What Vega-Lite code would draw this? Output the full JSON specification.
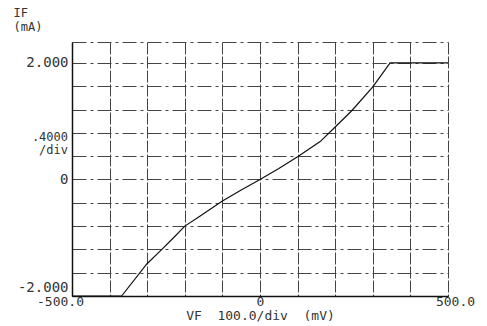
{
  "$schema": "https://vega.github.io/schema/vega-lite/v6.json",
  "width": 376,
  "height": 254,
  "autosize": {"type": "none"},
  "padding": {"left": 72, "top": 42, "right": 39, "bottom": 30},
  "background": "white",
  "config": {
    "view": {"stroke": null},
    "font": "DejaVu Sans Mono",
    "text": {"font": "DejaVu Sans Mono", "fontSize": 12, "color": "#333"}
  },
  "layer": [
    {
      "data": {"values": [
        {"vmv": -500, "ima": -2.0},
        {"vmv": -368, "ima": -2.0},
        {"vmv": -301, "ima": -1.45},
        {"vmv": -261, "ima": -1.2},
        {"vmv": -230, "ima": -1.0},
        {"vmv": -200, "ima": -0.8},
        {"vmv": -160, "ima": -0.63},
        {"vmv": -100, "ima": -0.37},
        {"vmv": -50, "ima": -0.18},
        {"vmv": 0, "ima": 0.0},
        {"vmv": 50, "ima": 0.19},
        {"vmv": 100, "ima": 0.39},
        {"vmv": 160, "ima": 0.65},
        {"vmv": 200, "ima": 0.9},
        {"vmv": 244, "ima": 1.18},
        {"vmv": 300, "ima": 1.59},
        {"vmv": 346, "ima": 2.0},
        {"vmv": 500, "ima": 2.0}
      ]},
      "mark": {"type": "line", "color": "#111", "strokeWidth": 1.2, "clip": false},
      "encoding": {
        "x": {
          "field": "vmv", "type": "quantitative",
          "scale": {"domain": [-500, 500], "nice": false, "zero": false},
          "axis": {
            "values": [-500, -400, -300, -200, -100, 0, 100, 200, 300, 400, 500],
            "tickCount": 50,
            "labelExpr": "datum.value == -500 ? '-500.0' : datum.value == 0 ? '0' : datum.value == 500 ? '500.0' : ''",
            "labelFont": "DejaVu Sans Mono", "labelFontSize": 13, "labelColor": "#333",
            "labelPadding": -1, "labelBaseline": "top", "labelFlush": false, "labelOverlap": false,
            "labelOffset": {"condition": [{"test": "datum.value == -500", "value": -12}, {"test": "datum.value == 500", "value": 7}], "value": 0},
            "domain": true, "domainColor": "#111", "domainWidth": 1.3,
            "ticks": false,
            "grid": true, "gridColor": "#444", "gridWidth": 1, "gridDash": [12, 2],
            "title": "VF\u00a0\u00a0100.0/div\u00a0\u00a0(mV)",
            "titleFont": "DejaVu Sans Mono", "titleFontSize": 13, "titleFontWeight": "normal", "titleColor": "#333",
            "titleBaseline": "middle", "titleY": 19
          }
        },
        "y": {
          "field": "ima", "type": "quantitative",
          "scale": {"domain": [-2, 2.36], "nice": false, "zero": false},
          "axis": {
            "values": [-2, -1.6, -1.2, -0.8, -0.4, 0, 0.4, 0.8, 1.2, 1.6, 2, 2.36],
            "tickCount": 50,
            "labelExpr": "datum.value == 2 ? '2.000' : datum.value == 0 ? '0' : datum.value == -2 ? '-2.000' : ''",
            "labelFont": "DejaVu Sans Mono", "labelFontSize": 14, "labelColor": "#333",
            "labelPadding": 4, "labelFlush": false, "labelOverlap": false,
            "labelBaseline": {"condition": {"test": "datum.value == -2", "value": "bottom"}, "value": "middle"},
            "labelOffset": {"condition": {"test": "datum.value == -2", "value": -2}, "value": 0},
            "domain": true, "domainColor": "#111", "domainWidth": 1.5,
            "ticks": false,
            "grid": true, "gridColor": "#444", "gridWidth": 1, "gridDash": [14, 4, 3, 4],
            "title": ["IF", "\u00a0\u00a0\u00a0(mA)"],
            "titleAngle": 0, "titleAlign": "left", "titleBaseline": "middle",
            "titleX": -59, "titleY": -30, "titleLineHeight": 14,
            "titleFont": "DejaVu Sans Mono", "titleFontSize": 12, "titleFontWeight": "normal", "titleColor": "#333"
          }
        }
      }
    },
    {
      "data": {"values": [{"vmv": -500, "ima": 0.8, "t": ".4000"}]},
      "mark": {"type": "text", "align": "right", "baseline": "top", "dx": -4, "dy": -1, "clip": false},
      "encoding": {
        "x": {"field": "vmv", "type": "quantitative"},
        "y": {"field": "ima", "type": "quantitative"},
        "text": {"field": "t"}
      }
    },
    {
      "data": {"values": [{"vmv": -500, "ima": 0.8, "t": "/div"}]},
      "mark": {"type": "text", "align": "right", "baseline": "top", "dx": -4, "dy": 12, "clip": false},
      "encoding": {
        "x": {"field": "vmv", "type": "quantitative"},
        "y": {"field": "ima", "type": "quantitative"},
        "text": {"field": "t"}
      }
    }
  ]
}
